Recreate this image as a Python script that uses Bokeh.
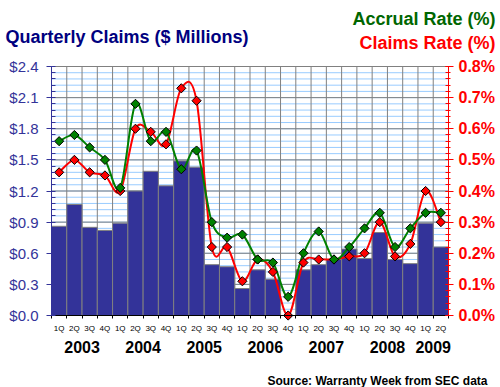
from bokeh.plotting import figure
from bokeh.models import (Range1d, LinearAxis, FixedTicker, SingleIntervalTicker,
                          PrintfTickFormatter, Label)
from bokeh.embed import file_html
from bokeh.resources import INLINE

# ---------------- data ----------------
years = [2003, 2004, 2005, 2006, 2007, 2008, 2009]
quarters_per_year = [4, 4, 4, 4, 4, 4, 2]
quarter_labels = ["1Q", "2Q", "3Q", "4Q"] * 6 + ["1Q", "2Q"]

claims_musd = [0.86, 1.07, 0.85, 0.82, 0.89, 1.20, 1.39, 1.25, 1.49, 1.43,
               0.49, 0.47, 0.26, 0.44, 0.35, 0.00, 0.44, 0.49, 0.54, 0.64,
               0.55, 0.80, 0.54, 0.50, 0.89, 0.66]
accrual_rate = [0.56, 0.58, 0.54, 0.50, 0.41, 0.68, 0.56, 0.59, 0.47, 0.53,
                0.30, 0.25, 0.26, 0.18, 0.17, 0.06, 0.20, 0.27, 0.18, 0.22,
                0.28, 0.33, 0.22, 0.28, 0.33, 0.33]
claims_rate = [0.46, 0.50, 0.46, 0.45, 0.40, 0.60, 0.59, 0.55, 0.73, 0.69,
               0.22, 0.22, 0.11, 0.18, 0.14, 0.00, 0.17, 0.18, 0.18, 0.19,
               0.20, 0.30, 0.19, 0.23, 0.40, 0.30]

# axis scales
claims_max, claims_step = 2.4, 0.3
rate_max, rate_step = 0.8, 0.1
minor_per_major = 5

# ---------------- styling / layout ----------------
FONT = "Liberation Sans"
NAVY = "#333399"
TITLE_NAVY = "#000080"
GREEN = "#008000"
GREEN_TXT = "#006600"
RED = "#FF0000"
GRAY = "#808080"
LIGHTBLUE = "#99CCFF"

W, H = 500, 387
PL, PR, PT, PB = 51, 448, 66, 315   # plot area in canvas pixels

n = len(claims_musd)
idx = list(range(n))
boundaries = [i - 0.5 for i in range(n + 1)]
x_lo, x_hi = -0.5, n - 0.5

kx = (PR - PL) / (x_hi - x_lo)
ky = (PB - PT) / claims_max
kr = (PB - PT) / rate_max

p = figure(width=W, height=H, output_backend="svg", toolbar_location=None,
           x_axis_type=None, y_axis_type=None,
           x_range=Range1d(x_lo - PL / kx, x_hi + (W - PR) / kx),
           y_range=Range1d(-(H - PB) / ky, claims_max + PT / ky),
           min_border=0, min_border_left=0, min_border_right=0,
           min_border_top=0, min_border_bottom=0)
p.title.visible = False
p.outline_line_color = None
p.background_fill_color = "white"
p.border_fill_color = "white"
p.extra_y_ranges = {"rate": Range1d(-(H - PB) / kr, rate_max + PT / kr)}

# ---------------- grid lines ----------------
n_minor = int(round(claims_max / claims_step)) * minor_per_major
minor_y = [claims_max * k / n_minor for k in range(n_minor + 1)]
major_y = [claims_step * k for k in range(int(round(claims_max / claims_step)) + 1)]
p.segment(x0=[x_lo] * len(minor_y), x1=[x_hi] * len(minor_y), y0=minor_y,
          y1=minor_y, line_color=LIGHTBLUE, line_width=1)
p.segment(x0=[x_lo] * len(major_y), x1=[x_hi] * len(major_y), y0=major_y,
          y1=major_y, line_color=GRAY, line_width=1)
p.segment(x0=boundaries, x1=boundaries, y0=[0] * len(boundaries),
          y1=[claims_max] * len(boundaries), line_color=GRAY, line_width=1)

# ---------------- axes ----------------
ly = LinearAxis(fixed_location=x_lo, bounds=(0, claims_max),
                ticker=SingleIntervalTicker(interval=claims_step,
                                            num_minor_ticks=minor_per_major),
                formatter=PrintfTickFormatter(format="$%.1f"))
ly.axis_line_color = NAVY
ly.major_tick_line_color = NAVY
ly.minor_tick_line_color = NAVY
ly.major_tick_out = 5
ly.major_tick_in = 0
ly.minor_tick_out = 0
ly.minor_tick_in = 4
ly.major_label_standoff = 8
ly.major_label_text_font = FONT
ly.major_label_text_font_size = "15px"
ly.major_label_text_color = NAVY
p.add_layout(ly, "left")

ry = LinearAxis(y_range_name="rate", fixed_location=x_hi, bounds=(0, rate_max),
                ticker=SingleIntervalTicker(interval=rate_step,
                                            num_minor_ticks=minor_per_major),
                formatter=PrintfTickFormatter(format="%.1f%%"))
ry.axis_line_color = RED
ry.major_tick_line_color = RED
ry.minor_tick_line_color = RED
ry.major_tick_out = 5
ry.major_tick_in = 3
ry.minor_tick_out = 2
ry.minor_tick_in = 3
ry.major_label_standoff = 5
ry.major_label_text_font = FONT
ry.major_label_text_font_size = "16px"
ry.major_label_text_font_style = "bold"
ry.major_label_text_color = RED
p.add_layout(ry, "right")

qx = LinearAxis(fixed_location=0, bounds=(x_lo, x_hi),
                ticker=FixedTicker(ticks=idx, minor_ticks=boundaries))
qx.major_label_overrides = {i: q for i, q in zip(idx, quarter_labels)}
qx.axis_line_color = "black"
qx.major_tick_line_color = None
qx.major_tick_out = 0
qx.major_tick_in = 0
qx.minor_tick_line_color = "black"
qx.minor_tick_out = 3
qx.minor_tick_in = 0
qx.major_label_standoff = 5
qx.major_label_text_font = FONT
qx.major_label_text_font_size = "8px"
qx.major_label_text_color = "black"
p.add_layout(qx, "below")

year_centers = []
start = 0
for cnt in quarters_per_year:
    year_centers.append(start + (cnt - 1) / 2)
    start += cnt
yx = LinearAxis(fixed_location=0, ticker=FixedTicker(ticks=year_centers))
yx.major_label_overrides = {c: str(y) for c, y in zip(year_centers, years)}
yx.axis_line_color = None
yx.major_tick_line_color = None
yx.minor_tick_line_color = None
yx.major_tick_out = 0
yx.major_tick_in = 0
yx.major_label_standoff = 25
yx.major_label_text_font = FONT
yx.major_label_text_font_size = "16px"
yx.major_label_text_font_style = "bold"
yx.major_label_text_color = "black"
p.add_layout(yx, "below")

# ---------------- bars ----------------
p.vbar(x=idx, top=claims_musd, width=1.0, fill_color=NAVY, line_color=GRAY,
       line_width=1)


# smooth lines (Catmull-Rom curve drawn as bezier segments through the data points)
def smooth(xs, ys):
    m = len(xs)
    x0, y0, x1, y1, cx0, cy0, cx1, cy1 = ([] for _ in range(8))
    for i in range(m - 1):
        xa, ya = xs[max(i - 1, 0)], ys[max(i - 1, 0)]
        xb, yb = xs[i], ys[i]
        xc, yc = xs[i + 1], ys[i + 1]
        xd, yd = xs[min(i + 2, m - 1)], ys[min(i + 2, m - 1)]
        x0.append(xb); y0.append(yb); x1.append(xc); y1.append(yc)
        cx0.append(xb + (xc - xa) / 6); cy0.append(yb + (yc - ya) / 6)
        cx1.append(xc - (xd - xb) / 6); cy1.append(yc - (yd - yb) / 6)
    return dict(x0=x0, y0=y0, x1=x1, y1=y1, cx0=cx0, cy0=cy0, cx1=cx1, cy1=cy1)


p.bezier(**smooth(idx, claims_rate), y_range_name="rate", line_color=RED,
         line_width=2)
p.bezier(**smooth(idx, accrual_rate), y_range_name="rate", line_color=GREEN,
         line_width=2)
p.scatter(idx, claims_rate, y_range_name="rate", marker="square", size=6.5,
          angle=0.785398, fill_color=RED, line_color="black", line_width=1)
p.scatter(idx, accrual_rate, y_range_name="rate", marker="square", size=6.5,
          angle=0.785398, fill_color=GREEN, line_color="black", line_width=1)

# ---------------- texts (screen units: from canvas left / bottom) ----------------
def add_text(text, x, baseline_y, color, size, align="left"):
    p.add_layout(Label(x=x, y=H - baseline_y, x_units="screen", y_units="screen",
                       text=text, text_font=FONT, text_font_size=size,
                       text_font_style="bold", text_color=color,
                       text_align=align, text_baseline="alphabetic"))


add_text("Quarterly Claims ($ Millions)", 5, 36, TITLE_NAVY, "18px")
add_text("Accrual Rate (%)", 495, 18, GREEN_TXT, "18px", "right")
add_text("Claims Rate (%)", 495, 42, RED, "18px", "right")
add_text("Source: Warranty Week from SEC data", 487, 380, "black", "12px", "right")

open("out.html", "w").write(file_html(p, INLINE))
